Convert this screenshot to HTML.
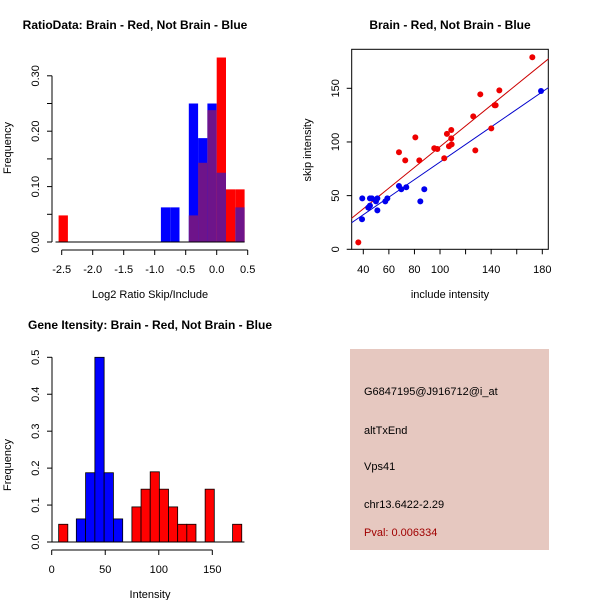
<!DOCTYPE html>
<html><head><meta charset="utf-8"><style>
body{margin:0;background:#fff}
svg{display:block;font-family:"Liberation Sans",sans-serif}
</style></head><body>
<svg id="c" width="600" height="600">
<rect x="350" y="349" width="199" height="201" fill="#e6c8c0"/>
<g font-size="11" fill="#000">
<text x="364" y="395">G6847195@J916712@i_at</text>
<text x="364" y="434">altTxEnd</text>
<text x="364" y="470">Vps41</text>
<text x="364" y="508">chr13.6422-2.29</text>
<text x="364" y="536" fill="#a00000">Pval: 0.006334</text>
</g>
</svg>
<script>
// Panel 1 data (ratio histogram)
const ratioBinStart=-2.55, ratioBinWidth=0.15;
const ratioBlue=[0,0,0,0,0,0,0,0,0,0,0,0.0625,0.0625,0,0.25,0.1875,0.25,0.125,0,0.0625];
const ratioRed=[0.048,0,0,0,0,0,0,0,0,0,0,0,0,0,0.048,0.143,0.238,0.333,0.095,0.095];
const ratioXTicks=[-2.5,-2.0,-1.5,-1.0,-0.5,0.0,0.5];
const ratioYTicks=[0,0.05,0.10,0.15,0.20,0.25,0.30];
const ratioYLabels=["0.00","","0.10","","0.20","","0.30"];
// Panel 2 data (scatter)
const redInc=[36.1,67.9,72.8,80.7,83.8,95.5,97.9,103.3,105.4,107.0,108.8,108.8,109.1,126.0,127.6,131.5,140.1,142.7,143.5,146.4,172.2];
const redSkip=[6.5,90.4,82.9,104.3,82.9,94.1,93.5,84.8,107.5,96.0,111.2,103.4,97.8,123.9,92.2,144.4,112.7,134.2,134.2,148.1,178.9];
const blueInc=[39.2,39.0,43.9,45.2,45.2,46.7,49.9,51.0,51.0,57.2,58.8,67.9,69.7,73.6,84.6,87.7,179.0];
const blueSkip=[47.5,28.0,38.8,40.7,47.5,47.5,44.7,47.5,36.3,44.7,47.5,59.0,55.9,57.8,44.7,55.9,147.5];
// fitted lines: [intercept, slope]
const redFit=[-0.9,0.965];
const blueFit=[-0.5,0.818];
const scXTicks=[40,60,80,100,120,140,160,180];
const scXLabels=["40","60","80","100","","140","","180"];
const scYTicks=[0,50,100,150];
// Panel 3 data (intensity histogram)
const intBlueStart=23, intBlueWidth=8.66;
const intBlue=[0.0625,0.1875,0.5,0.1875,0.0625];
const intRedStart=6.5, intRedWidth=8.55;
const intRed=[0.048,0,0,0,0,0,0,0,0.095,0.143,0.19,0.143,0.095,0.048,0.048,0,0.143,0,0,0.048];
const intXTicks=[0,50,100,150];
const intYTicks=[0,0.1,0.2,0.3,0.4,0.5];

const svg=document.getElementById('c');
const NS='http://www.w3.org/2000/svg';
function mk(tag,attrs,parent){const e=document.createElementNS(NS,tag);for(const k in attrs)e.setAttribute(k,attrs[k]);(parent||svg).appendChild(e);return e;}
function txt(s,x,y,rot,attrs){const e=mk('text',Object.assign({x:x,y:y,'text-anchor':'middle','font-size':11},attrs||{}));if(rot)e.setAttribute('transform','rotate(-90 '+x+' '+y+')');e.textContent=s;return e;}

// ---------- Panel 1 ----------
const p1x=v=>61.7+(v+2.5)*62, p1y=v=>242-v*554;
let t=txt('RatioData: Brain - Red, Not Brain - Blue',135,29,0,{'font-weight':'bold','font-size':12});

for(let i=0;i<ratioBlue.length;i++){
  const b=ratioBlue[i],r=ratioRed[i],x0=p1x(ratioBinStart+i*ratioBinWidth),x1=p1x(ratioBinStart+(i+1)*ratioBinWidth);
  const hi=Math.max(b,r),lo=Math.min(b,r);
  if(hi>0){let e=mk('rect',{x:x0,y:p1y(hi),width:x1-x0,height:p1y(0)-p1y(hi),fill:b>r?'#0000ff':'#ff0000'});
    }
  if(lo>0){let e=mk('rect',{x:x0,y:p1y(lo),width:x1-x0,height:p1y(0)-p1y(lo),fill:'#6e148a'});
    }
}
mk('line',{x1:p1x(-2.6),x2:p1x(0.45),y1:p1y(0),y2:p1y(0),stroke:'#000'});
mk('line',{x1:p1x(-2.5),x2:p1x(0.5),y1:250,y2:250,stroke:'#000'});
ratioXTicks.forEach(v=>{mk('line',{x1:p1x(v),x2:p1x(v),y1:250,y2:255,stroke:'#000'});let e=txt(v.toFixed(1),p1x(v),273);});
mk('line',{x1:52,x2:52,y1:p1y(0),y2:p1y(0.30),stroke:'#000'});
ratioYTicks.forEach((v,i)=>{mk('line',{x1:47,x2:52,y1:p1y(v),y2:p1y(v),stroke:'#000'});if(ratioYLabels[i]){let e=txt(ratioYLabels[i],39,p1y(v),1);}});
t=txt('Log2 Ratio Skip/Include',150,298);
t=txt('Frequency',11,148,1);

// ---------- Panel 2 ----------
const p2x=v=>363.3+(v-40)*1.2786, p2y=v=>249.3-v*1.0733;
t=txt('Brain - Red, Not Brain - Blue',450,29,0,{'font-weight':'bold','font-size':12});

let box=mk('rect',{x:351.7,y:49.3,width:196.6,height:200,fill:'none',stroke:'#000'});

const cp=mk('clipPath',{id:'clp'});mk('rect',{x:351.7,y:49.3,width:196.6,height:200},cp);
[[redFit,'#cc0000','red-fit-line'],[blueFit,'#0000cc','blue-fit-line']].forEach(([f,c,n])=>{
  const a=f[0],b=f[1];const xa=30,xb=190;
  let l=mk('line',{x1:p2x(xa),y1:p2y(a+b*xa),x2:p2x(xb),y2:p2y(a+b*xb),stroke:c,'clip-path':'url(#clp)'});
  });
redInc.forEach((v,i)=>{let e=mk('circle',{cx:p2x(v),cy:p2y(redSkip[i]),r:3,fill:'#ee0000'});});
blueInc.forEach((v,i)=>{let e=mk('circle',{cx:p2x(v),cy:p2y(blueSkip[i]),r:3,fill:'#0000ee'});});
scXTicks.forEach((v,i)=>{mk('line',{x1:p2x(v),x2:p2x(v),y1:249.3,y2:254.3,stroke:'#000'});if(scXLabels[i]){let e=txt(scXLabels[i],p2x(v),273);}});
scYTicks.forEach(v=>{mk('line',{x1:346.7,x2:351.7,y1:p2y(v),y2:p2y(v),stroke:'#000'});let e=txt(String(v),339,p2y(v),1);});
t=txt('include intensity',450,298);
t=txt('skip intensity',311,150,1);

// ---------- Panel 3 ----------
const p3x=v=>51.7+v*1.0707, p3y=v=>542-v*369.4;
t=txt('Gene Itensity: Brain - Red, Not Brain - Blue',150,329,0,{'font-weight':'bold','font-size':12});

intBlue.forEach((v,i)=>{if(v>0){const x0=p3x(intBlueStart+i*intBlueWidth),x1=p3x(intBlueStart+(i+1)*intBlueWidth);let e=mk('rect',{x:x0,y:p3y(v),width:x1-x0,height:p3y(0)-p3y(v),fill:'#0000ff',stroke:'#000','stroke-width':0.8});}});
intRed.forEach((v,i)=>{if(v>0){const x0=p3x(intRedStart+i*intRedWidth),x1=p3x(intRedStart+(i+1)*intRedWidth);let e=mk('rect',{x:x0,y:p3y(v),width:x1-x0,height:p3y(0)-p3y(v),fill:'#ff0000',stroke:'#000','stroke-width':0.8});}});
mk('line',{x1:p3x(0),x2:p3x(180),y1:p3y(0),y2:p3y(0),stroke:'#000'});
mk('line',{x1:p3x(0),x2:p3x(150),y1:550,y2:550,stroke:'#000'});
intXTicks.forEach(v=>{mk('line',{x1:p3x(v),x2:p3x(v),y1:550,y2:555,stroke:'#000'});let e=txt(String(v),p3x(v),573);});
mk('line',{x1:52,x2:52,y1:p3y(0),y2:p3y(0.5),stroke:'#000'});
intYTicks.forEach(v=>{mk('line',{x1:47,x2:52,y1:p3y(v),y2:p3y(v),stroke:'#000'});let e=txt(v.toFixed(1),39,p3y(v),1);});
t=txt('Intensity',150,598);
t=txt('Frequency',11,465,1);
</script>
</body></html>
